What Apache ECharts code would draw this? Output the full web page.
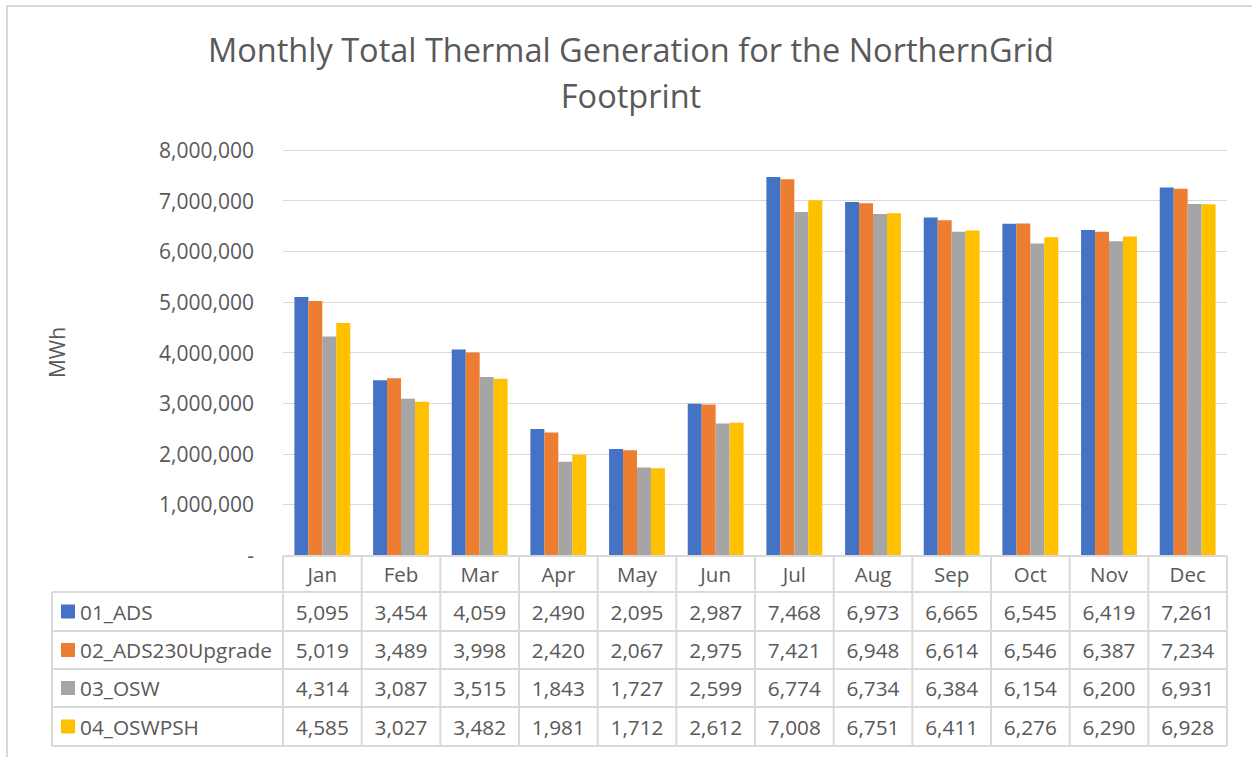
<!DOCTYPE html>
<html>
<head>
<meta charset="utf-8">
<script src="https://cdn.jsdelivr.net/npm/echarts@6/dist/echarts.min.js"></script>
<style>
  html, body { margin: 0; padding: 0; background: #fff; }
  #chart { width: 1252px; height: 757px; }
</style>
</head>
<body>
<div id="chart"></div>
<script>
const months = ['Jan', 'Feb', 'Mar', 'Apr', 'May', 'Jun', 'Jul', 'Aug', 'Sep', 'Oct', 'Nov', 'Dec'];
const seriesNames = ['01_ADS', '02_ADS230Upgrade', '03_OSW', '04_OSWPSH'];
// values in thousands of MWh, as printed in the data table
const ads = [5095, 3454, 4059, 2490, 2095, 2987, 7468, 6973, 6665, 6545, 6419, 7261];
const ads230 = [5019, 3489, 3998, 2420, 2067, 2975, 7421, 6948, 6614, 6546, 6387, 7234];
const osw = [4314, 3087, 3515, 1843, 1727, 2599, 6774, 6734, 6384, 6154, 6200, 6931];
const oswpsh = [4585, 3027, 3482, 1981, 1712, 2612, 7008, 6751, 6411, 6276, 6290, 6928];
const yTickLabels = ['-', '1,000,000', '2,000,000', '3,000,000', '4,000,000',
  '5,000,000', '6,000,000', '7,000,000', '8,000,000'];

const seriesData = [ads, ads230, osw, oswpsh];
const colors = ['#4472C4', '#ED7D31', '#A5A5A5', '#FFC000'];
const textColor = '#595959';
const lineColor = '#D9D9D9';
const font = 'Open Sans';

let chart = echarts.init(document.getElementById('chart'), null, { renderer: 'svg' });

chart.setOption({
  animation: false,
  title: {
    text: 'Monthly Total Thermal Generation for the NorthernGrid\nFootprint',
    left: 626,
    textAlign: 'center',
    top: 21,
    textStyle: {
      fontFamily: font,
      fontSize: 32.5,
      fontWeight: 'normal',
      color: textColor,
      lineHeight: 46,
    },
  },
  grid: { left: 283, right: 25, top: 150, bottom: 202 },
  xAxis: {
    type: 'category',
    data: months,
    axisLine: { show: false },
    axisTick: { show: false },
    axisLabel: { fontFamily: font, fontSize: 20.5, color: textColor, margin: 8 },
  },
  yAxis: {
    type: 'value',
    min: 0,
    max: 8000,
    interval: 1000,
    name: 'MWh',
    nameLocation: 'middle',
    nameGap: 216,
    nameTextStyle: { fontFamily: font, fontSize: 21, color: textColor },
    axisLabel: {
      fontFamily: font,
      fontSize: 21,
      color: textColor,
      margin: 29,
      formatter: (v, i) => yTickLabels[i],
    },
    splitLine: { lineStyle: { color: lineColor, width: 1 } },
  },
  series: seriesNames.map((name, k) => ({
    name: name,
    type: 'bar',
    data: seriesData[k],
    barGap: '0%',
    barCategoryGap: '29%',
    itemStyle: { color: colors[k] },
  })),
});

// data table under the plot, columns taken from the category axis
function drawTable() {
  const x0 = chart.convertToPixel({ xAxisIndex: 0 }, 0);
  const x1 = chart.convertToPixel({ xAxisIndex: 0 }, 1);
  const colW = x1 - x0;
  const left = x0 - colW / 2;
  const right = left + colW * months.length;
  const top = chart.convertToPixel({ yAxisIndex: 0 }, 0) + 1;
  const rowY = [592, 631, 669, 707, 746];
  const legendLeft = 52;
  const ls = { stroke: lineColor, lineWidth: 2 };
  const els = [];

  // outer chart border
  els.push({ type: 'rect', shape: { x: 7, y: 6, width: 1300, height: 800 },
    style: { fill: 'none', stroke: lineColor, lineWidth: 2 }, silent: true });

  els.push({ type: 'line', shape: { x1: left, y1: top, x2: right, y2: top }, style: ls });
  rowY.forEach(y => {
    els.push({ type: 'line', shape: { x1: legendLeft, y1: y, x2: right, y2: y }, style: ls });
  });
  els.push({ type: 'line', shape: { x1: legendLeft, y1: rowY[0], x2: legendLeft, y2: rowY[4] }, style: ls });
  for (let i = 0; i <= months.length; i++) {
    const x = left + colW * i;
    els.push({ type: 'line', shape: { x1: x, y1: top, x2: x, y2: rowY[4] }, style: ls });
  }

  seriesNames.forEach((name, k) => {
    const cy = (rowY[k] + rowY[k + 1]) / 2;
    els.push({ type: 'rect', shape: { x: 61, y: cy - 7, width: 14, height: 14 },
      style: { fill: colors[k] } });
    els.push({ type: 'text', x: 80, y: cy, style: {
      text: name, fontFamily: font, fontSize: 20.8, fill: textColor,
      align: 'left', verticalAlign: 'middle' } });
    seriesData[k].forEach((v, i) => {
      els.push({ type: 'text', x: chart.convertToPixel({ xAxisIndex: 0 }, i), y: cy, style: {
        text: v.toLocaleString('en-US'), fontFamily: font, fontSize: 20.8, fill: textColor,
        align: 'center', verticalAlign: 'middle' } });
    });
  });

  chart.setOption({ graphic: els });
}

drawTable();
</script>
</body>
</html>
